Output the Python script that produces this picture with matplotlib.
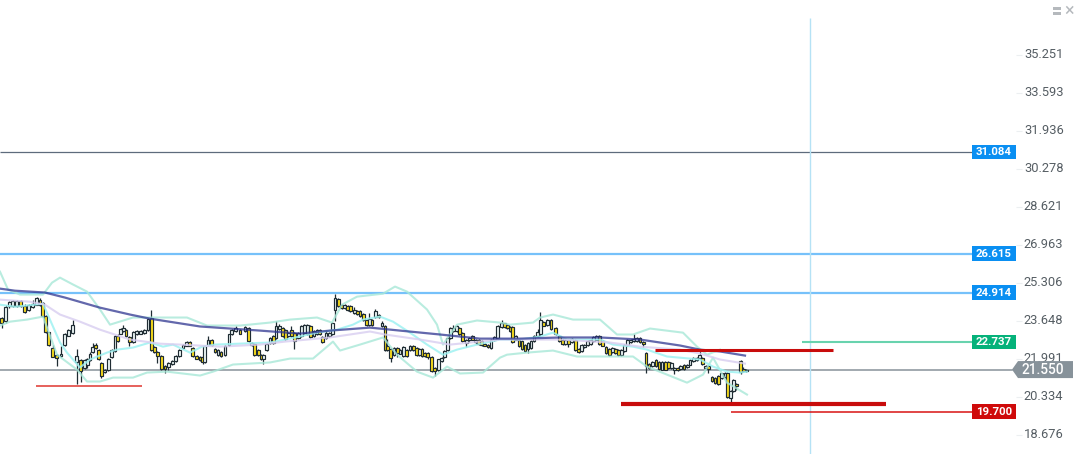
import numpy as np
import matplotlib
matplotlib.use('Agg')
import matplotlib.pyplot as plt
from matplotlib.patches import Polygon, Rectangle
from matplotlib.transforms import ScaledTranslation

plt.rcParams['font.family'] = ['Roboto', 'DejaVu Sans']

# price scale
tick_prices = [35.251, 33.593, 31.936, 30.278, 28.621, 26.963, 25.306, 23.648, 21.991, 20.334, 18.676]
tick_labels = ['35.251', '33.593', '31.936', '30.278', '28.621', '26.963', '25.306', '23.648', '21.991', '20.334', '18.676']

# candles, left part
bars_a = [5,17,28,38,50,62,74,86,98,110,120,128,137,146,158,170,183,194,205,218,
          230,242,254,262,270,278,287,296,304,314,325,335,345,353,362,370,378,388,400,410,
          422,433,444,454,463,472,484,495,505,517,527,538,549,560,569,578,590,600,608,614,
          624,635,645,654,663,675,687,695,707,720,735,746,755,763,775,783,790,800,810]
opens_a = [23.80,23.66,24.31,24.31,24.34,24.53,24.31,24.17,24.28,24.38,24.60,24.46,23.88,23.18,22.49,22.20,22.13,22.64,23.03,23.15,
           21.88,21.96,21.62,21.77,21.96,22.31,22.64,22.42,21.84,21.43,21.52,22.10,22.35,23.03,23.12,23.22,23.29,22.97,22.74,23.08,
           23.12,23.15,23.27,23.80,22.54,22.31,22.13,21.72,21.67,21.81,21.91,22.13,22.49,22.60,22.74,22.49,22.16,22.10,22.10,21.87,
           22.64,22.86,22.45,22.20,22.31,22.20,22.64,23.08,23.22,23.29,23.22,23.37,22.64,22.68,22.42,22.20,21.99,22.39,22.71]
closes_a = [23.59,24.28,24.49,24.53,24.53,24.34,24.05,24.38,24.43,24.68,24.38,23.90,23.19,22.64,22.10,22.06,22.23,23.12,23.27,23.51,
            22.13,21.48,21.96,21.99,22.25,22.54,22.49,21.99,21.26,21.52,22.02,22.42,23.03,22.79,23.32,23.37,23.00,22.74,23.18,23.22,
            23.22,23.27,23.76,22.42,22.31,22.13,21.58,21.58,21.84,21.91,22.13,22.39,22.64,22.76,22.60,22.13,22.03,21.96,21.87,22.60,
            22.86,22.64,22.31,22.42,22.13,22.60,23.08,23.27,23.37,23.12,23.40,22.79,22.71,22.20,22.20,22.02,22.20,22.68,22.93]
highs_a = [23.85,24.38,24.55,24.58,24.58,24.57,24.40,24.42,24.58,24.72,24.65,24.50,23.92,23.20,22.64,22.25,22.57,23.15,23.30,23.70,
           22.45,22.00,22.00,22.05,22.30,22.71,22.70,22.46,21.90,21.56,22.06,22.46,23.06,23.08,23.36,23.50,23.33,23.00,23.22,23.26,
           23.26,23.32,23.80,24.17,22.58,22.35,22.17,21.76,21.88,21.95,22.17,22.43,22.68,22.80,22.78,22.53,22.20,22.14,22.14,22.64,
           23.02,22.90,22.50,22.46,22.35,22.64,23.12,23.31,23.45,23.33,23.44,23.41,22.75,22.72,22.46,22.24,22.24,22.72,22.97]
lows_a = [23.37,23.59,24.25,24.28,24.30,24.30,24.00,24.12,24.25,24.35,24.33,23.86,23.15,22.60,22.08,21.72,22.10,22.60,23.00,23.12,
          20.90,21.00,21.58,21.60,21.92,22.28,22.45,21.95,21.20,21.40,21.48,22.06,22.30,22.75,23.08,23.18,22.96,22.60,22.70,23.04,
          23.08,23.10,23.22,22.38,22.27,21.84,21.54,21.40,21.55,21.77,21.87,22.09,22.45,22.56,22.56,22.09,21.99,21.92,21.80,21.83,
          22.60,22.60,22.27,22.16,22.09,22.16,22.60,23.04,23.18,23.08,23.18,22.75,22.60,22.16,22.16,21.98,21.80,22.35,22.67]

# candles, middle part
bars_b = [10,18,28,38,46,55,64,73,85,94,103,112,121,132,141,149,157,168,178,187,
          195,205,215,224,233,241,253,262,270,280,290,298,306,316,326,336,345,352,362,372,
          382,390,400,410,420,430,440,448,456,464,473,485,494,505,515,523,533,541,550,560,
          568,577,589,598,607,617,626,635,644,654,663,673,683]
opens_b = [23.00,22.93,23.32,23.37,23.27,23.00,23.27,23.15,22.93,23.00,23.15,23.08,23.44,23.03,23.08,23.29,22.97,22.93,23.00,23.08,
           24.17,24.64,24.38,24.24,24.34,24.31,24.02,24.09,24.09,23.99,23.70,23.51,23.73,23.85,23.94,23.44,23.47,22.57,22.45,22.20,
           22.49,22.25,22.16,22.42,22.39,22.57,22.49,22.20,22.45,22.28,22.28,22.10,21.62,21.52,21.91,22.10,22.39,22.93,23.22,23.22,
           23.37,23.15,22.71,22.83,23.00,22.74,22.83,22.79,22.68,22.64,22.49,22.83,22.93]
closes_b = [22.71,23.44,23.47,23.00,22.89,23.15,23.03,22.79,23.15,23.47,23.51,23.51,22.97,23.22,23.29,23.08,22.74,23.15,23.15,23.59,
            24.68,24.34,24.24,24.38,24.14,24.09,24.17,23.99,23.88,23.73,23.51,23.76,23.51,24.09,23.85,23.59,22.42,22.39,22.06,22.49,
            22.28,22.42,22.54,22.13,22.57,22.42,22.20,22.45,22.16,22.16,22.10,21.48,21.48,21.99,22.06,22.35,22.93,23.37,23.37,23.47,
            23.08,22.79,22.86,22.93,22.86,22.86,22.68,22.64,22.60,22.54,22.83,22.97,23.44]
highs_b = [23.04,23.66,23.52,23.41,23.31,23.19,23.44,23.19,23.19,23.51,23.55,23.55,23.48,23.26,23.33,23.33,23.01,23.29,23.19,23.63,
           24.86,24.68,24.42,24.42,24.38,24.35,24.27,24.13,24.13,24.03,23.74,24.02,23.77,24.19,23.98,23.66,23.51,22.89,22.49,22.53,
           22.53,22.46,22.58,22.46,22.61,22.61,22.53,22.49,22.49,22.32,22.32,22.14,21.66,22.03,22.10,22.39,22.97,23.41,23.51,23.51,
           23.41,23.19,22.90,22.97,23.04,22.90,22.87,22.83,22.72,22.68,22.87,23.01,23.48]
lows_b = [22.67,22.89,23.28,22.96,22.85,22.96,22.99,22.45,22.89,22.96,23.11,23.04,22.93,22.99,23.04,23.04,22.70,22.89,22.96,23.04,
          23.66,24.30,24.20,24.20,24.10,24.05,23.98,23.95,23.84,23.69,23.47,23.47,23.47,23.81,23.81,23.40,22.38,22.35,21.90,22.16,
          22.10,22.21,22.12,22.09,22.35,22.38,22.16,22.16,22.12,22.12,22.00,21.44,21.26,21.48,21.87,22.06,22.35,22.89,23.18,23.18,
          23.04,22.75,22.55,22.75,22.82,22.65,22.64,22.60,22.56,22.50,22.45,22.79,22.89]

# candles, right part
bars_c = [5,14,22,30,37,47,57,66,75,84,93,102,113,121,130,142,153,167,178,188,
          196,205,215,226,236,245,253,263,272,280,289,298,308,318,328,337,346,355,364,373,
          382,392,401,410,420,430,438,447,457,468,477,486,496,505,514,523,533,541,552,562,
          570,580,590,599,607,617,625,636,645,655,665,675,682,692,700,709,722,730,739]
opens_c = [23.41,23.56,23.51,23.41,23.41,22.86,22.86,22.79,22.64,22.45,22.49,22.79,23.00,23.08,23.61,23.51,23.70,23.37,23.00,22.86,
           22.68,22.83,22.74,22.86,22.45,22.35,22.54,22.64,22.68,22.79,22.86,23.00,22.79,22.54,22.45,22.31,22.45,22.42,22.20,22.35,
           22.64,22.74,22.79,22.79,22.93,22.74,22.28,21.81,21.70,21.96,21.87,21.55,21.87,21.87,21.62,21.55,21.62,21.58,21.75,21.66,
           21.77,21.91,21.96,22.06,22.06,21.62,21.70,21.23,21.19,21.29,21.19,21.23,21.40,20.31,20.60,20.92,21.91,21.58,21.48]
closes_c = [23.59,23.41,23.37,23.22,22.74,23.00,22.57,22.45,22.35,22.71,22.79,23.00,23.18,23.70,23.47,23.70,23.32,23.08,22.79,22.68,
            22.83,22.68,22.89,22.39,22.31,22.64,22.64,22.79,22.83,22.97,23.03,22.68,22.60,22.28,22.20,22.49,22.28,22.20,22.39,22.64,
            22.86,22.86,22.89,22.93,22.74,22.68,21.72,21.62,21.87,21.72,21.58,21.87,21.55,21.62,21.84,21.62,21.55,21.72,21.58,21.77,
            21.96,22.06,22.06,22.20,21.81,21.72,21.58,21.04,20.97,20.90,21.38,21.40,20.36,20.60,21.08,20.82,21.43,21.48,21.55]
highs_c = [23.70,23.60,23.55,23.45,23.45,23.04,22.90,22.83,22.68,22.75,22.83,23.04,23.30,24.08,23.65,23.74,23.74,23.41,23.04,22.90,
           22.87,22.87,22.93,22.90,22.49,22.68,22.68,22.83,22.87,23.01,23.07,23.04,22.83,22.58,22.49,22.53,22.49,22.46,22.43,22.68,
           22.90,22.90,23.10,22.97,22.97,22.78,22.32,21.85,21.91,22.00,21.91,21.91,21.91,21.91,21.88,21.66,21.66,21.76,21.79,21.81,
           22.00,22.10,22.10,22.40,22.10,21.76,21.74,21.27,21.23,21.33,21.42,21.44,21.44,20.64,21.12,20.96,21.95,21.66,21.59]
lows_c = [23.37,23.37,23.33,23.18,22.70,22.82,22.53,22.41,22.31,22.26,22.45,22.75,22.96,23.00,23.43,23.47,23.28,23.04,22.75,22.64,
          22.64,22.54,22.70,22.35,22.27,22.31,22.50,22.60,22.64,22.75,22.82,22.64,22.56,22.24,22.16,22.27,22.24,22.16,22.16,22.31,
          22.60,22.70,22.75,22.75,22.70,22.54,21.40,21.58,21.66,21.68,21.54,21.51,21.51,21.58,21.58,21.37,21.50,21.54,21.54,21.62,
          21.73,21.87,21.92,22.02,21.77,21.58,21.40,21.00,20.93,20.86,21.15,21.19,20.32,20.12,20.56,20.68,21.36,21.44,21.45]

# overlay lines: bar position, price
ma_long_x = [0, 15, 45, 65, 100, 130, 150, 200, 260, 300, 330, 370, 400, 440, 480, 520, 560, 600, 640, 680, 700, 720, 745]
ma_long_y = [25.08, 24.99, 24.91, 24.69, 24.25, 23.95, 23.77, 23.43, 23.25, 23.12, 23.25, 23.38, 23.25, 23.08, 22.90, 22.90, 22.95, 22.95, 22.86, 22.60, 22.42, 22.34, 22.16]
ma_mid_x = [0, 30, 45, 60, 80, 100, 130, 160, 180, 220, 260, 285, 330, 370, 385, 420, 450, 500, 530, 560, 610, 640, 680, 700, 720, 745]
ma_mid_y = [24.60, 24.51, 24.38, 23.95, 23.64, 23.29, 22.86, 22.68, 22.64, 22.55, 22.64, 22.77, 22.95, 23.21, 23.08, 22.86, 22.64, 22.86, 22.86, 22.86, 22.73, 22.55, 22.42, 22.25, 21.99, 21.81]
band_mid_x = [0, 15, 43, 60, 67, 80, 90, 107, 117, 133, 150, 163, 173, 190, 202, 215, 270, 290, 317, 337, 353, 363, 380, 393, 410, 427, 443, 457, 477, 500, 520, 540, 553, 567, 600, 613, 633, 647, 667, 700, 713, 727, 740, 747]
band_mid_y = [24.38, 24.29, 24.42, 22.73, 22.29, 21.64, 21.99, 22.29, 22.42, 22.51, 22.73, 22.55, 22.64, 22.29, 22.55, 22.64, 22.73, 22.90, 23.16, 23.29, 23.51, 23.73, 23.86, 23.64, 23.16, 22.64, 22.20, 22.42, 22.64, 22.86, 22.86, 22.99, 23.16, 22.86, 22.86, 22.64, 22.55, 22.42, 22.12, 21.99, 21.68, 21.46, 21.42, 21.46]
band_up_x = [0, 8, 20, 43, 52, 60, 73, 87, 100, 110, 133, 167, 187, 207, 227, 240, 270, 290, 317, 332, 342, 357, 383, 395, 407, 427, 437, 443, 457, 477, 500, 510, 533, 540, 553, 573, 600, 617, 633, 650, 683, 697, 707, 720]
band_up_y = [25.82, 25.04, 24.82, 24.82, 25.34, 25.56, 25.26, 24.95, 24.17, 23.51, 23.82, 23.82, 23.82, 23.47, 23.47, 23.47, 23.60, 23.73, 23.82, 23.60, 24.38, 24.73, 24.86, 25.17, 24.95, 24.17, 23.51, 22.64, 23.51, 23.69, 23.60, 23.51, 23.60, 23.82, 23.95, 23.73, 23.73, 23.08, 23.08, 23.34, 23.16, 22.55, 22.20, 22.42]
band_lo_x = [0, 10, 27, 43, 57, 77, 87, 100, 113, 133, 147, 167, 200, 213, 233, 270, 290, 313, 333, 340, 360, 383, 397, 417, 433, 447, 460, 483, 500, 507, 527, 553, 577, 633, 647, 687, 703, 713, 727, 747]
band_lo_y = [23.47, 23.64, 23.73, 23.86, 22.20, 21.55, 21.03, 21.03, 21.20, 21.20, 21.42, 21.46, 21.29, 21.46, 21.77, 21.86, 22.03, 22.03, 22.77, 22.38, 22.64, 22.95, 22.20, 21.46, 21.20, 21.68, 21.38, 21.42, 22.07, 22.20, 22.29, 22.38, 22.12, 22.12, 21.68, 20.98, 21.33, 22.07, 20.98, 20.46]

# horizontal level lines
level_prices = [31.04, 26.61, 24.91]
level_colors = ['#5d6b7c', '#76c1fa', '#76c1fa']
level_widths = [0.9, 1.6, 1.6]
level_end = 972

# drawn segments: start, end, price, colour, width
seg_start = [36, 655, 621, 731, 802]
seg_end = [142, 833, 886, 972, 972]
seg_price = [20.85, 22.42, 20.07, 19.72, 22.75]
seg_color = ['#e2463f', '#c80c0c', '#c80c0c', '#d81414', '#68d3ae']
seg_width = [1.2, 2.2, 3.0, 1.1, 1.5]

tag_prices = [31.04, 26.61, 24.91, 22.75, 19.72]
tag_text = ['31.084', '26.615', '24.914', '22.737', '19.700']
tag_color = ['#0a8ff2', '#0a8ff2', '#0a8ff2', '#05b27a', '#cf0a0a']

last_price = 21.55
last_label = '21.550'

fig = plt.figure(figsize=(10.84, 4.54), dpi=100)
ax = fig.add_axes([0, 0, 1016 / 1084, 1])

xs = np.r_[np.array(bars_a) / 3, 270 + np.array(bars_b) / 3, 500 + np.array(bars_c) / 3]
opens = np.array(opens_a + opens_b + opens_c)
closes = np.array(closes_a + closes_b + closes_c)
highs = np.array(highs_a + highs_b + highs_c)
lows = np.array(lows_a + lows_b + lows_c)

ax.set_xlim(0, 1016)
top = 35.251 + 54.5 / 22.93 + 0.04
ax.set_ylim(top - 454 / 22.93, top)

# levels
for p, c, w in zip(level_prices, level_colors, level_widths):
    ax.plot([0, level_end], [p, p], color=c, lw=w, zorder=1, solid_capstyle='butt')
ax.plot([0, 1012], [last_price, last_price], color='#87929a', lw=1.1, zorder=1)
ax.vlines(810, ax.get_ylim()[0], 36.9, color='#b5e2f5', lw=1, zorder=1)

# candles
ax.vlines(xs, lows, highs, color='#1f2c33', lw=0.9, zorder=3)
down = closes < opens
ax.bar(xs, np.abs(closes - opens), bottom=np.minimum(opens, closes), width=2.9,
       color=np.where(down, '#ffe11a', '#f2fbfa'), edgecolor='#1f2c33', linewidth=0.85, zorder=4)

# averages and bands
ax.plot(band_up_x, band_up_y, color='#a8e8d8', lw=1.5, alpha=0.8, zorder=5)
ax.plot(band_lo_x, band_lo_y, color='#a8e8d8', lw=1.5, alpha=0.8, zorder=5)
ax.plot(band_mid_x, band_mid_y, color='#9ff2f2', lw=1.5, alpha=0.85, zorder=5)
ax.plot(ma_mid_x, ma_mid_y, color='#d8cdf0', lw=1.5, alpha=0.8, zorder=5)
ax.plot(ma_long_x, ma_long_y, color='#2f3590', lw=1.6, alpha=0.75, zorder=6)

# trend segments
for a, b, p, c, w in zip(seg_start, seg_end, seg_price, seg_color, seg_width):
    ax.plot([a, b], [p, p], color=c, lw=w, zorder=7, solid_capstyle='butt')

# price tags
px = 1 / 22.93
for p, t, c in zip(tag_prices, tag_text, tag_color):
    ax.add_patch(Rectangle((972, p - 7.3 * px), 44, 14.6 * px, color=c, lw=0, zorder=8))
    ax.text(994, p - 0.2 * px, t, color='white', fontsize=8.2, fontweight='bold',
            ha='center', va='center', zorder=9)

ax.add_patch(Polygon([[1012, last_price], [1018, last_price + 8.5 * px], [1073, last_price + 8.5 * px],
                      [1073, last_price - 8.5 * px], [1018, last_price - 8.5 * px]],
                     color='#87929a', lw=0, clip_on=False, zorder=10))
ax.text(1043, last_price - 0.2 * px, last_label, color='white', fontsize=9.8, fontweight='medium',
        ha='center', va='center', clip_on=False, zorder=11)

# axis
ax.yaxis.tick_right()
ax.set_yticks(tick_prices, tick_labels)
ax.set_xticks([])
ax.tick_params(axis='y', length=4.3, width=0.8, color='#eceff1', pad=1.4, labelsize=9.3, labelcolor='#555d63')
for lab in ax.get_yticklabels():
    lab.set_transform(lab.get_transform() + ScaledTranslation(0, 2.5 / 100, fig.dpi_scale_trans))
for s in ax.spines.values():
    s.set_visible(False)

# window buttons
fig.add_artist(Rectangle((1053 / 1084, 1 - 15 / 454), 8 / 1084, 8 / 454, color='#b5b9bd', lw=0))
fig.add_artist(Rectangle((1053 / 1084, 1 - 12 / 454), 8 / 1084, 2 / 454, color='white', lw=0))
fig.text(1069 / 1084, 1 - 10.5 / 454, '×', color='#b5b9bd', fontsize=13, ha='center', va='center')

fig.savefig('out.png', dpi=100)
